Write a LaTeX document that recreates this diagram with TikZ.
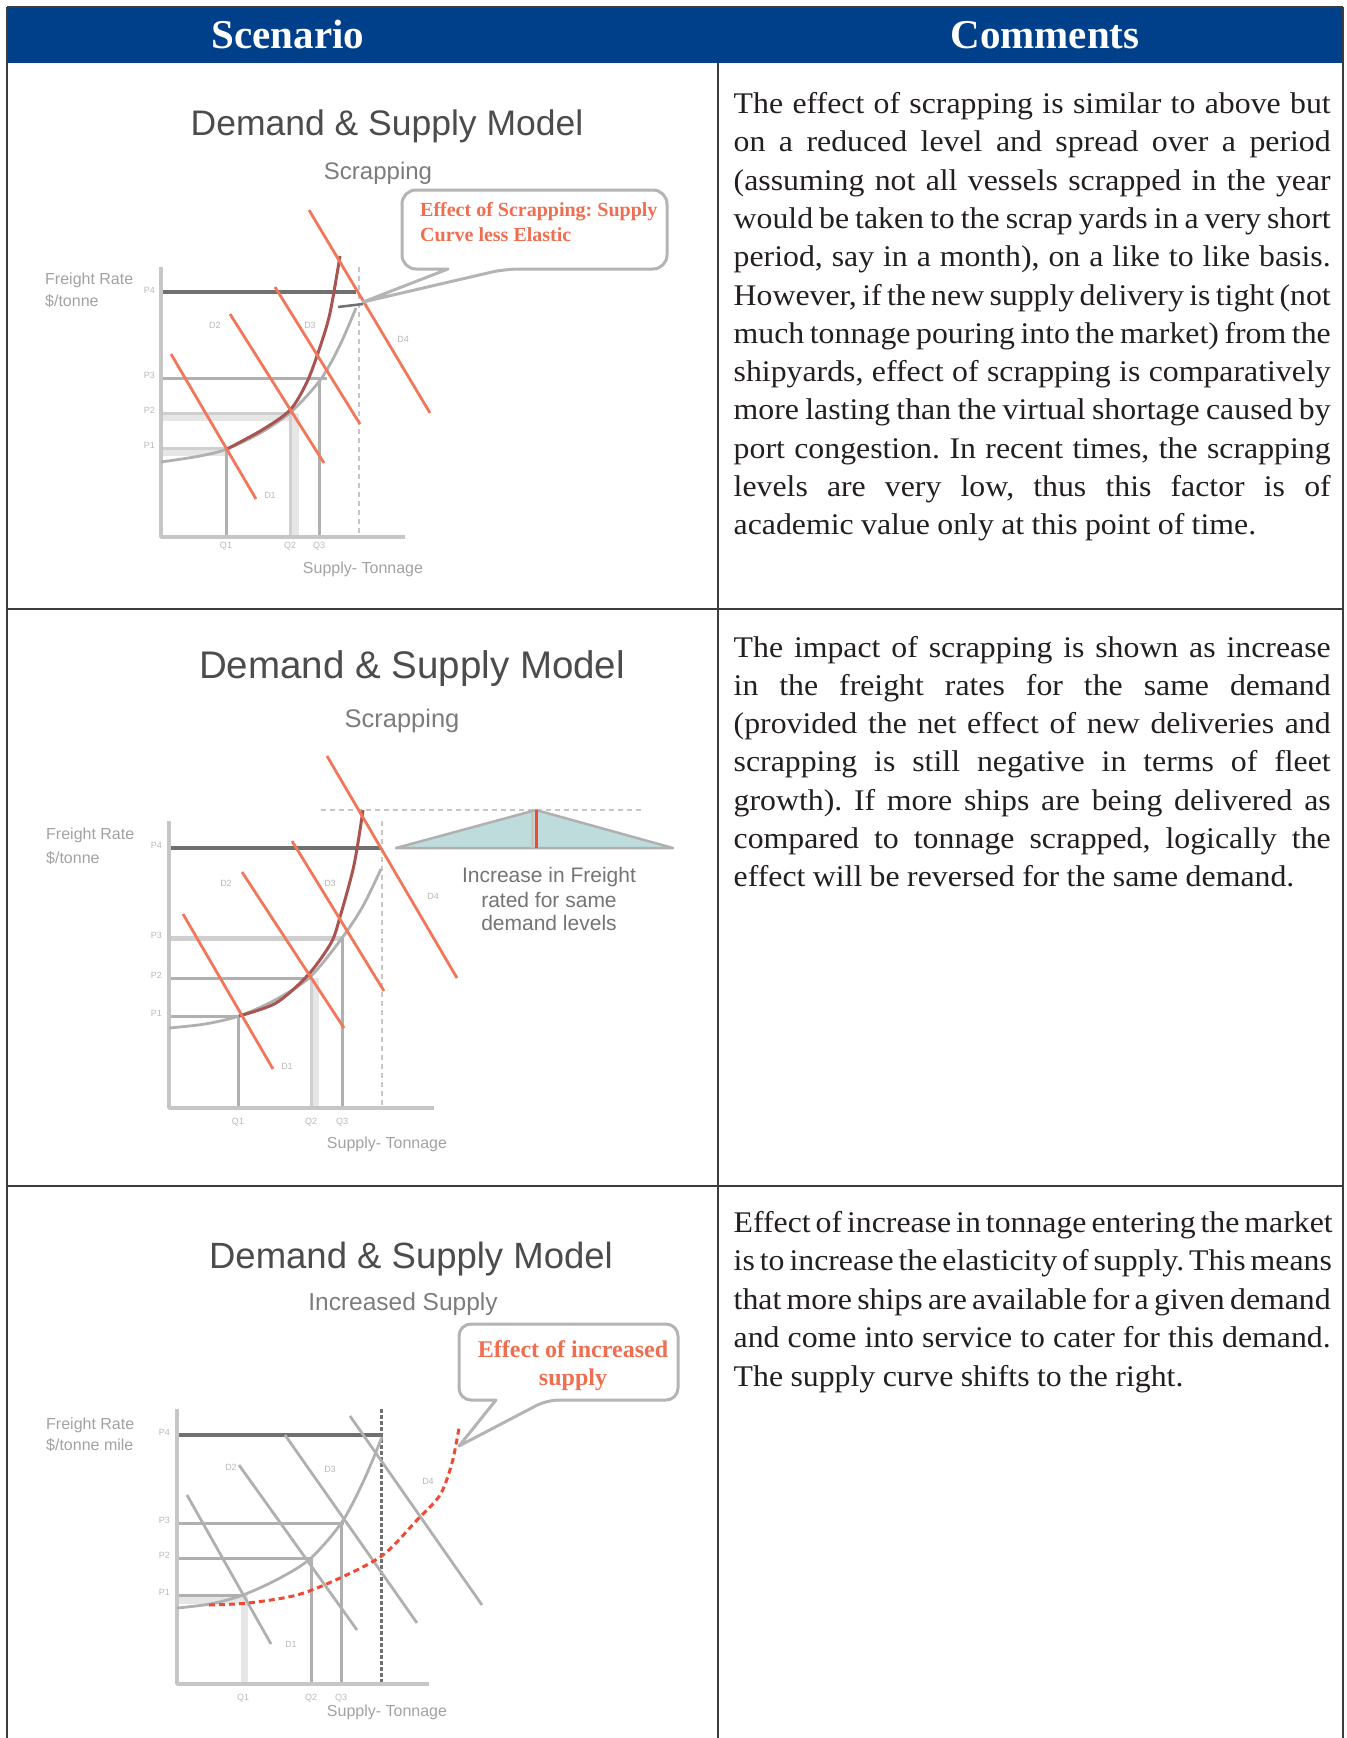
\documentclass[tikz,border=0pt]{standalone}
\usepackage{fontspec}
\setmainfont{Liberation Serif}
\newfontfamily\bodyfont{Liberation Serif}[FakeStretch=1.06,WordSpace=0.93]
\newfontfamily\chartfont{Liberation Sans}
\frenchspacing
\newcommand{\Unit}{1pt}
\newcommand{\ColW}{597pt}
\definecolor{headblue}{HTML}{00408A}
\definecolor{ink}{HTML}{231F20}
\definecolor{ruleink}{HTML}{3C3C3C}
\definecolor{axisgray}{HTML}{C6C6C6}
\definecolor{midgray}{HTML}{B0B0B0}
\definecolor{lightgray}{HTML}{CFCFCF}
\definecolor{palegray}{HTML}{E6E6E6}
\definecolor{darkgray}{HTML}{707070}
\definecolor{labelgray}{HTML}{A2A2A2}
\definecolor{tickgray}{HTML}{B8B8B8}
\definecolor{titlegray}{HTML}{4C4C4C}
\definecolor{subgray}{HTML}{7C7C7C}
\definecolor{notegray}{HTML}{747474}
\definecolor{demandred}{HTML}{F27659}
\definecolor{scrapbrown}{HTML}{A85450}
\definecolor{calloutred}{HTML}{F06E50}
\definecolor{supplyred}{HTML}{EE4A34}
\definecolor{boxgray}{HTML}{B4B4B4}
\definecolor{tealfill}{HTML}{BEDCDC}
\definecolor{tan}{HTML}{D2C2B4}

\begin{document}
\begin{tikzpicture}[x=\Unit,y=-\Unit, line join=round,
  tablerule/.style={draw=ruleink,line width=1.3pt},
  headtext/.style={anchor=base,inner sep=0,text=white,font=\fontsize{41}{41}\selectfont\bfseries},
  comline/.style={anchor=base west,inner sep=0,text=ink,font=\bodyfont\fontsize{30}{36}\selectfont},
  charttitle/.style={anchor=base,inner sep=0,text=titlegray},
  chartsub/.style={anchor=base,inner sep=0,text=subgray},
  axislab/.style={inner sep=0,text=labelgray,font=\chartfont\fontsize{16}{16}\selectfont},
  ticklab/.style={inner sep=0,text=tickgray,font=\chartfont\fontsize{9}{9}\selectfont},
  axisline/.style={draw=axisgray,line width=3.5pt},
  darkrate/.style={draw=darkgray,line width=3.5pt},
  midrate/.style={draw=midgray,line width=3pt},
  lightrate/.style={draw=lightgray,line width=3pt},
  paleband/.style={draw=palegray,line width=7pt},
  guideline/.style={draw=axisgray,line width=2.5pt,dash pattern=on 5pt off 4pt},
  demand/.style={draw=demandred,line width=2.8pt},
  graydemand/.style={draw=midgray,line width=2.8pt},
  oldsupply/.style={draw=midgray,line width=2.8pt},
  scrapsupply/.style={draw=scrapbrown,line width=3pt},
  moresupply/.style={draw=supplyred,line width=3pt,dash pattern=on 6pt off 4pt},
  calloutbox/.style={draw=boxgray,line width=3pt},
  callnote/.style={inner sep=0,text=calloutred,font=\fontsize{20}{20}\selectfont\bfseries},
  risenote/.style={anchor=base,inner sep=0,text=notegray,font=\chartfont\fontsize{21}{21}\selectfont}]

  \useasboundingbox (0,0) rectangle (1347,1738);

  % ---- table frame and header ---------------------------------------------
  \fill[headblue] (7,7) rectangle (1343,63);
  \node[headtext] (hScen) at (288,48) {Scenario};
  \node[headtext] (hCom) at (1045,48) {Comments};
  \draw[tablerule] (7,7) -- (1343,7);
  \draw[tablerule] (7,7) -- (7,1738);
  \draw[tablerule] (1343,7) -- (1343,1738);
  \draw[tablerule] (718,63) -- (718,1738);
  \draw[tablerule] (7,609) -- (1343,609);
  \draw[tablerule] (7,1186) -- (1343,1186);

  % ---- comments -----------------------------------------------------------
  \foreach \ln [count=\i] in {%
{The effect of scrapping is similar to above but},%
{on a reduced level and spread over a period},%
{(assuming not all vessels scrapped in the year},%
{would be taken to the scrap yards in a very short},%
{period, say in a month), on a like to like basis.},%
{However, if the new supply delivery is tight (not},%
{much tonnage pouring into the market) from the},%
{shipyards, effect of scrapping is comparatively},%
{more lasting than the virtual shortage caused by},%
{port congestion. In recent times, the scrapping},%
{levels are very low, thus this factor is of}%
}{
    \node[comline] (comA-\i) at (733.5,{113.5+38.3*(\i-1)}) {\makebox[\ColW][s]{\ln}};
  }
  \node[comline] (comA-12) at (733.5,534.8) {academic value only at this point of time.};

  \foreach \ln [count=\i] in {%
{The impact of scrapping is shown as increase},%
{in the freight rates for the same demand},%
{(provided the net effect of new deliveries and},%
{scrapping is still negative in terms of fleet},%
{growth). If more ships are being delivered as},%
{compared to tonnage scrapped, logically the}%
}{
    \node[comline] (comB-\i) at (733.5,{657+38.3*(\i-1)}) {\makebox[\ColW][s]{\ln}};
  }
  \node[comline] (comB-7) at (733.5,886.8) {effect will be reversed for the same demand.};

  \foreach \ln [count=\i] in {%
{Effect of increase in tonnage entering the market},%
{is to increase the elasticity of supply. This means},%
{that more ships are available for a given demand},%
{and come into service to cater for this demand.}%
}{
    \node[comline] (comC-\i) at (733.5,{1232+38.5*(\i-1)}) {\makebox[\ColW][s]{\ln}};
  }
  \node[comline] (comC-5) at (733.5,1386) {The supply curve shifts to the right.};

  % ---- chart A: scrapping, supply less elastic ----------------------------
  \node[charttitle,font=\chartfont\fontsize{35.5}{36}\selectfont] (titleA) at (387,135) {Demand \& Supply Model};
  \node[chartsub,font=\chartfont\fontsize{24}{24}\selectfont] (subA) at (378,179) {Scrapping};
  \node[axislab,anchor=base west] (yA1) at (45,284) {Freight Rate};
  \node[axislab,anchor=base west] (yA2) at (45,306) {\$/tonne};
  \node[axislab,anchor=base] (xA) at (363,573) {Supply- Tonnage};

  \draw[paleband] (161,452) -- (227,452);
  \draw[paleband] (161,417) -- (292,417);
  \draw[paleband] (295,413) -- (295,537);
  \draw[lightrate] (161,448) -- (227,448);
  \draw[lightrate] (161,413) -- (292,413);
  \draw[midrate] (161,378) -- (327,378);
  \draw[darkrate] (161,292) -- (356,292);
  \draw[midrate] (226,448) -- (226,537);
  \draw[lightrate] (290,413) -- (290,537);
  \draw[midrate] (319,378) -- (319,537);
  \draw[guideline] (359,267) -- (359,537);
  \draw[axisline] (161,267) -- (161,537) -- (405,537);

  \draw[oldsupply] plot[smooth] coordinates {(161,462) (200,456) (227,449) (262,432) (292,411) (321,379) (340,345) (356,308)};
  \draw[darkgray,line width=2.5pt] (338,307) -- (363,304);
  \draw[scrapsupply] plot[smooth] coordinates {(227,449) (262,430) (290,410) (307,382) (320,347) (330,313) (340,256)};

  \draw[demand] (171,354) -- (256,499);
  \draw[demand] (230,314) -- (324,463);
  \draw[demand] (275,287) -- (360,424);
  \draw[demand] (309,210) -- (430,413);

  \foreach \lab/\yy in {P4/293,P3/378,P2/413,P1/448}
    \node[ticklab,anchor=base east] (pA-\lab) at (155,\yy) {\lab};
  \foreach \lab/\xx in {Q1/226,Q2/290,Q3/319}
    \node[ticklab,anchor=base] (qA-\lab) at (\xx,548) {\lab};
  \node[ticklab] (dA-D1) at (270,495) {D1};
  \node[ticklab] (dA-D2) at (215,325) {D2};
  \node[ticklab] (dA-D3) at (310,325) {D3};
  \node[ticklab] (dA-D4) at (403,339) {D4};

  \draw[calloutbox,rounded corners=14pt] (448,269) -- (402,269) -- (402,190) -- (667,190) -- (667,269) -- (505,269) [sharp corners] -- (363,302) -- cycle;
  \node[callnote,anchor=base west] (noteA1) at (420,216) {Effect of Scrapping: Supply};
  \node[callnote,anchor=base west] (noteA2) at (420,241) {Curve less Elastic};

  % ---- chart B: scrapping, higher rate for the same demand ----------------
  \node[charttitle,font=\chartfont\fontsize{38.5}{39}\selectfont] (titleB) at (412,678) {Demand \& Supply Model};
  \node[chartsub,font=\chartfont\fontsize{25.5}{26}\selectfont] (subB) at (402,727) {Scrapping};
  \node[axislab,anchor=base west] (yB1) at (46,839) {Freight Rate};
  \node[axislab,anchor=base west] (yB2) at (46,863) {\$/tonne};
  \node[axislab,anchor=base] (xB) at (387,1148) {Supply- Tonnage};

  \draw[paleband] (315,978) -- (315,1108);
  \draw[lightrate,line width=5pt] (169,938) -- (342,938);
  \draw[midrate] (169,978) -- (310,978);
  \draw[midrate] (169,1016) -- (239,1016);
  \draw[darkrate] (169,848) -- (381,848);
  \draw[midrate] (238,1016) -- (238,1108);
  \draw[lightrate] (311,978) -- (311,1108);
  \draw[midrate] (342,938) -- (342,1108);
  \draw[guideline] (382,821) -- (382,1108);
  \draw[guideline,line width=2pt] (321,810) -- (643,810);
  \draw[axisline] (169,821) -- (169,1108) -- (434,1108);

  \filldraw[fill=tealfill,draw=midgray,line width=2.5pt] (396,848) -- (536,810) -- (673,848) -- cycle;
  \draw[tan,line width=3pt] (532,813) -- (532,848);
  \draw[supplyred,line width=3pt] (536,810) -- (536,848);

  \draw[oldsupply] plot[smooth] coordinates {(169,1028) (205,1024) (239,1016) (275,1000) (310,977) (342,938) (363,906) (381,869)};
  \draw[scrapsupply] plot[smooth] coordinates {(239,1016) (276,1003) (308,975) (331,943) (340,917) (354,865) (363,810)};

  \draw[demand] (183,914) -- (273,1069);
  \draw[demand] (242,872) -- (344,1028);
  \draw[demand] (292,841) -- (384,991);
  \draw[demand] (327,756) -- (457,978);

  \foreach \lab/\yy in {P4/848,P3/938,P2/978,P1/1016}
    \node[ticklab,anchor=base east] (pB-\lab) at (162,\yy) {\lab};
  \foreach \lab/\xx in {Q1/238,Q2/311,Q3/342}
    \node[ticklab,anchor=base] (qB-\lab) at (\xx,1124) {\lab};
  \node[ticklab] (dB-D1) at (287,1066) {D1};
  \node[ticklab] (dB-D2) at (226,883) {D2};
  \node[ticklab] (dB-D3) at (330,883) {D3};
  \node[ticklab] (dB-D4) at (433,896) {D4};

  \node[risenote] (riseB1) at (549,882) {Increase in Freight};
  \node[risenote] (riseB2) at (549,907) {rated for same};
  \node[risenote] (riseB3) at (549,930) {demand levels};

  % ---- chart C: increased supply -------------------------------------------
  \node[charttitle,font=\chartfont\fontsize{36.5}{37}\selectfont] (titleC) at (411,1268) {Demand \& Supply Model};
  \node[chartsub,font=\chartfont\fontsize{24.5}{25}\selectfont] (subC) at (403,1310) {Increased Supply};
  \node[axislab,anchor=base west] (yC1) at (46,1429) {Freight Rate};
  \node[axislab,anchor=base west] (yC2) at (46,1450) {\$/tonne mile};
  \node[axislab,anchor=base] (xC) at (387,1716) {Supply- Tonnage};

  \draw[paleband] (177,1600) -- (243,1600);
  \draw[paleband] (244,1595) -- (244,1684);
  \draw[midrate] (177,1595) -- (243,1595);
  \draw[midrate] (177,1558) -- (311,1558);
  \draw[midrate] (177,1523) -- (344,1523);
  \draw[darkrate] (177,1435) -- (380,1435);
  \draw[midrate] (311,1558) -- (311,1684);
  \draw[midrate] (341,1523) -- (341,1684);
  \draw[draw=darkgray,line width=3pt,dash pattern=on 4pt off 2pt] (381,1409) -- (381,1684);
  \draw[axisline] (177,1409) -- (177,1684) -- (429,1684);

  \draw[graydemand] (187,1495) -- (271,1644);
  \draw[graydemand] (239,1465) -- (357,1630);
  \draw[graydemand] (285,1435) -- (417,1623);
  \draw[graydemand] (350,1416) -- (482,1605);
  \draw[oldsupply] plot[smooth] coordinates {(177,1608) (210,1604) (243,1595) (280,1578) (311,1558) (342,1522) (364,1480) (382,1437)};
  \draw[moresupply] plot[smooth] coordinates {(209,1605) (248,1603) (297,1595) (340,1578) (383,1555) (417,1520) (440,1495) (452,1463) (459,1428)};

  \foreach \lab/\yy in {P4/1435,P3/1523,P2/1558,P1/1595}
    \node[ticklab,anchor=base east] (pC-\lab) at (170,\yy) {\lab};
  \foreach \lab/\xx in {Q1/243,Q2/311,Q3/341}
    \node[ticklab,anchor=base] (qC-\lab) at (\xx,1700) {\lab};
  \node[ticklab] (dC-D1) at (291,1644) {D1};
  \node[ticklab] (dC-D2) at (231,1467) {D2};
  \node[ticklab] (dC-D3) at (330,1469) {D3};
  \node[ticklab] (dC-D4) at (428,1481) {D4};

  \draw[calloutbox,rounded corners=12pt] (496,1400) -- (459,1400) -- (459,1324) -- (678,1324) -- (678,1400) -- (547,1400) [sharp corners] -- (459,1446) -- cycle;
  \node[callnote,anchor=base,font=\fontsize{24}{24}\selectfont\bfseries] (noteC1) at (573,1357) {Effect of increased};
  \node[callnote,anchor=base,font=\fontsize{24}{24}\selectfont\bfseries] (noteC2) at (573,1385) {supply};

\end{tikzpicture}
\end{document}
